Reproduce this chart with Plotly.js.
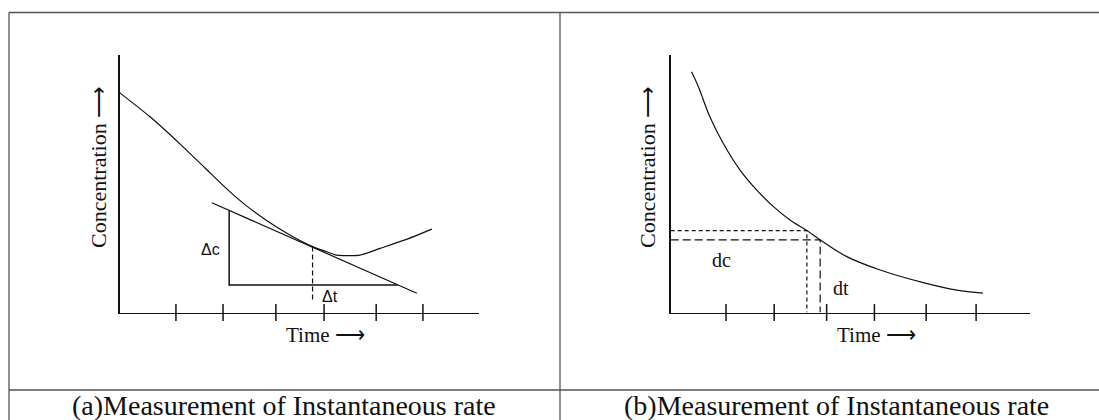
<!DOCTYPE html>
<html><head><meta charset="utf-8">
<script src="https://cdn.plot.ly/plotly-3.0.1.min.js"></script>
<style>html,body{margin:0;padding:0;background:#fff}#chart{width:1099px;height:420px}</style>
</head><body><div id="chart"></div>
<script>
// ---------- Panel (a): curve with tangent ----------
const timeA = [0, 0.85, 1.68, 2.38, 2.93, 3.49, 4.05, 4.74, 5.37, 5.76, 6.04, 6.69, 7.25, 7.94, 8.69];
const concA = [8.54, 7.60, 6.55, 5.61, 4.87, 4.19, 3.61, 3.01, 2.56, 2.36, 2.23, 2.23, 2.49, 2.82, 3.24];
const tangentTimeA = [2.57, 8.27];
const tangentConcA = [4.26, 0.75];
const triangleTimeA = [3.05, 3.05, 7.74];
const triangleConcA = [3.95, 1.07, 1.07];
const dropTimeA = [5.37, 5.37];
const dropConcA = [2.56, 0.41];
const ticksA = [1.57, 2.88, 4.35, 5.69, 7.14, 8.44];
const deltaLabelsA = [{text: "\u0394c", t: 2.52, c: 2.43}, {text: "\u0394t", t: 5.86, c: 0.64}];

// ---------- Panel (b): decay curve ----------
const timeB = [0.58, 0.77, 1.09, 1.46, 1.93, 2.39, 2.86, 3.32, 3.79, 4.16, 4.90, 5.83, 7.03, 7.96, 8.69];
const concB = [9.35, 8.77, 7.60, 6.57, 5.53, 4.76, 4.11, 3.59, 3.18, 2.82, 2.17, 1.65, 1.16, 0.87, 0.75];
const upperGuideTime = [0, 3.79, 3.79];
const upperGuideConc = [3.18, 3.18, 0];
const lowerGuideTime = [0, 4.16, 4.16];
const lowerGuideConc = [2.82, 2.82, 0];
const ticksB = [1.54, 2.88, 4.34, 5.67, 7.11, 8.50];
const dLabelsB = [{text: "dc", t: 1.40, c: 2.04}, {text: "dt", t: 4.74, c: 0.95}];

const yLabel = "Concentration \u27F6";
const xLabel = "Time \u27F6";
const captions = ["(a)Measurement of Instantaneous rate", "(b)Measurement of Instantaneous rate"];

// ---------- layout helpers (pixel -> paper) ----------
const W = 1099, H = 420;
const px = v => v / W;
const py = v => 1 - v / H;
const serif = "Liberation Serif, Times New Roman, serif";
const sans = "Liberation Sans, Arial, sans-serif";

function line(x, y, ax, dash, w, smooth) {
  const ln = {color: "#111", width: w || 1.2, dash: dash || "solid"};
  if (smooth) { ln.shape = "spline"; ln.smoothing = smooth; }
  return {x: x, y: y, xaxis: ax[0], yaxis: ax[1], type: "scatter", mode: "lines",
          line: ln, hoverinfo: "skip"};
}
function tickMarks(t, ax) {
  return {x: t, y: t.map(() => 0), xaxis: ax[0], yaxis: ax[1], type: "scatter", mode: "markers",
          cliponaxis: false, hoverinfo: "skip",
          marker: {symbol: "line-ns", size: 12, color: "#111", line: {color: "#111", width: 1.5}}};
}
const A = ["x", "y"], B = ["x2", "y2"];

const data = [
  line(timeA, concA, A, "solid", 1.2, 0.6),
  line(tangentTimeA, tangentConcA, A),
  line(triangleTimeA, triangleConcA, A, "solid", 1.5),
  line(dropTimeA, dropConcA, A, "5px,3px"),
  tickMarks(ticksA, A),
  line(timeB, concB, B, "solid", 1.2, 1),
  line(upperGuideTime, upperGuideConc, B, "4px,3px"),
  line(lowerGuideTime, lowerGuideConc, B, "8px,4px"),
  tickMarks(ticksB, B)
];

function axis(domain, anchor) {
  return {domain: domain, anchor: anchor, range: [0, 10], showgrid: false, zeroline: false,
          showticklabels: false, ticks: "", showline: true, linecolor: "#111", linewidth: 1.6,
          fixedrange: true};
}
const yDom = [py(312.5), py(55)];

const annotations = [];
deltaLabelsA.forEach(d => annotations.push({xref: "x", yref: "y", x: d.t, y: d.c, text: d.text,
  showarrow: false, font: {family: sans, size: 16, color: "#111"}}));
dLabelsB.forEach(d => annotations.push({xref: "x2", yref: "y2", x: d.t, y: d.c, text: d.text,
  showarrow: false, font: {family: serif, size: 20, color: "#111"}}));
[[99, 325], [648, 876]].forEach(p => {
  annotations.push({xref: "paper", yref: "paper", x: px(p[0]), y: py(167), text: yLabel, textangle: -90,
    showarrow: false, xanchor: "center", yanchor: "middle", font: {family: serif, size: 22, color: "#111"}});
  annotations.push({xref: "paper", yref: "paper", x: px(p[1]), y: py(335), text: xLabel,
    showarrow: false, xanchor: "center", yanchor: "middle", font: {family: serif, size: 21, color: "#111"}});
});
[284, 836].forEach((cx, i) => annotations.push({xref: "paper", yref: "paper", x: px(cx), y: py(405),
  text: captions[i], showarrow: false, xanchor: "center", yanchor: "middle",
  font: {family: serif, size: 28, color: "#111"}}));

const frame = {color: "#555", width: 1.3};
const shapes = [
  {type: "line", xref: "paper", yref: "paper", x0: px(9), x1: 1, y0: py(12.5), y1: py(12.5), line: frame},
  {type: "line", xref: "paper", yref: "paper", x0: px(9), x1: px(9), y0: py(12.5), y1: 0, line: frame},
  {type: "line", xref: "paper", yref: "paper", x0: px(560), x1: px(560), y0: py(12.5), y1: 0, line: frame},
  {type: "line", xref: "paper", yref: "paper", x0: px(9), x1: 1, y0: py(390), y1: py(390), line: frame}
];

const layout = {
  width: W, height: H, margin: {l: 0, r: 0, t: 0, b: 0},
  paper_bgcolor: "#fff", plot_bgcolor: "rgba(0,0,0,0)", showlegend: false, hovermode: false,
  xaxis: axis([px(119.5), px(479)], "y"),
  yaxis: axis(yDom, "x"),
  xaxis2: axis([px(670.7), px(1030)], "y2"),
  yaxis2: axis(yDom, "x2"),
  annotations: annotations, shapes: shapes
};
Plotly.newPlot("chart", data, layout, {displayModeBar: false, staticPlot: true});
</script></body></html>
